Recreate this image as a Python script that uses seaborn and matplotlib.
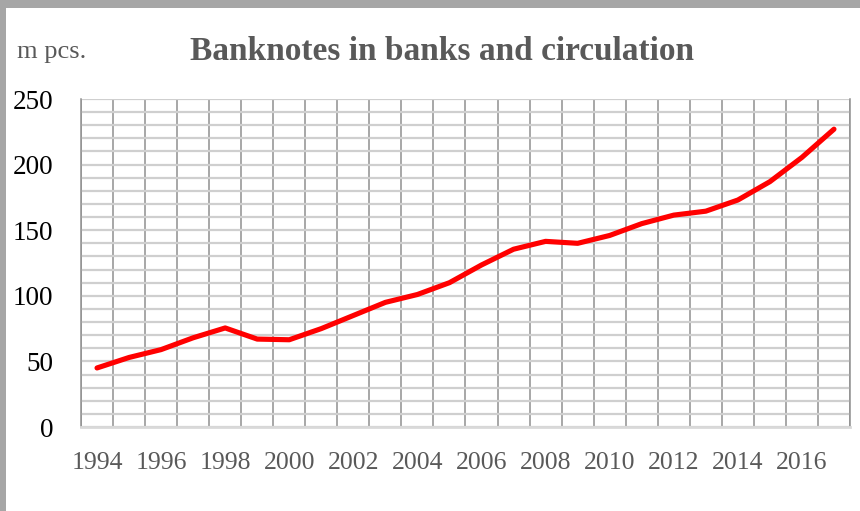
import matplotlib
matplotlib.use("Agg")
import matplotlib.pyplot as plt
import matplotlib.patches as mpatches
from matplotlib.ticker import MultipleLocator, FixedLocator
import numpy as np
import seaborn as sns

years = np.arange(1994, 2018)
banknotes = [45, 53, 59, 68, 75.5, 67, 66.5, 75, 85, 95, 101, 110, 123.5, 135.5, 141.5,
             140, 146, 155, 161.5, 164.5, 173, 187, 205.5, 227]
year_labels = [str(y) for y in range(1994, 2017, 2)]

sns.set_style("white")
plt.rcParams['font.family'] = ['Liberation Serif', 'DejaVu Serif']

fig = plt.figure(figsize=(8.6, 5.11), dpi=100)
fig.patch.set_facecolor("#a6a6a6")
fig.patches.append(mpatches.Rectangle((6 / 860, 0), 1, 503 / 511, transform=fig.transFigure,
                                      facecolor="white", edgecolor="none", zorder=-10))

ax = fig.add_axes([81 / 860, (511 - 427) / 511, 769 / 860, 328 / 511])
ax.set_zorder(1)
ax.set_facecolor("white")

sns.lineplot(x=years, y=banknotes, color="#ff0000", linewidth=3.7, ax=ax, zorder=5)

ax.set_xlim(1993.5, 2017.5)
ax.set_ylim(0, 250)

ax.xaxis.set_major_locator(FixedLocator(list(range(1994, 2017, 2))))
ax.set_xticklabels(year_labels)
ax.xaxis.set_minor_locator(FixedLocator(list(np.arange(1993.5, 2018, 1))))
ax.yaxis.set_major_locator(MultipleLocator(50))
ax.yaxis.set_minor_locator(MultipleLocator(10))

ax.grid(which="minor", axis="x", color="#8f8f8f", linewidth=1.1)
ax.grid(which="major", axis="x", visible=False)
ax.grid(which="both", axis="y", color="#cfcfcf", linewidth=1.6)
ax.set_axisbelow(True)

ax.tick_params(axis="x", which="major", length=0, pad=18, labelsize=18.5, labelcolor="#595959")
ax.tick_params(axis="x", which="minor", length=7, width=2, color="#d9d9d9", direction="out")
ax.tick_params(axis="y", which="both", length=0, pad=20, labelsize=19.5, labelcolor="black")

ax.spines["top"].set_visible(False)
for side in ["left", "right"]:
    ax.spines[side].set_color("#8f8f8f")
    ax.spines[side].set_linewidth(1.1)
ax.spines["bottom"].set_color("#d9d9d9")
ax.spines["bottom"].set_linewidth(2)

fig.text(190 / 860, 1 - 52 / 511, "Banknotes in banks and circulation", fontsize=24,
         fontweight="bold", color="#595959", ha="left", va="center")
fig.text(17 / 860, 1 - 52 / 511, "m pcs.", fontsize=19, color="#595959", ha="left", va="center")

fig.savefig("out.png", dpi=100, facecolor=fig.get_facecolor())
